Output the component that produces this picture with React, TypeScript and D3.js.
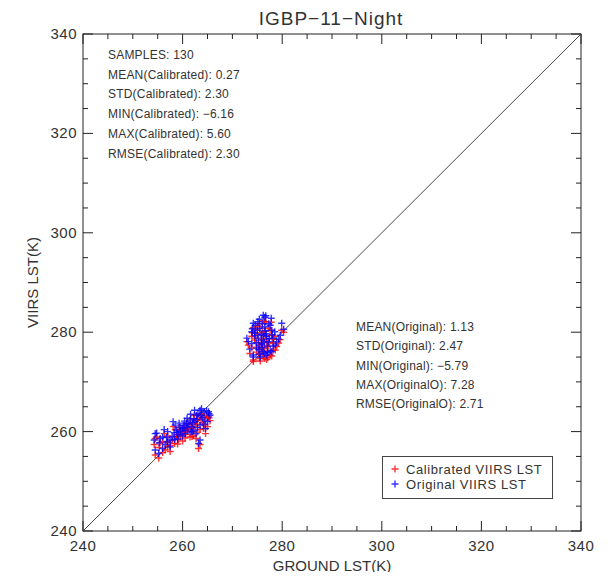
import React, { useRef, useEffect } from 'react';
import * as d3 from 'd3';

// ground LST, calibrated VIIRS LST, original VIIRS LST (K) for each sample
const ground = [
  254.5, 254.8, 254.3, 255.5, 256.0, 256.8, 257.5, 254.5, 257.5, 258.1,
  258.5, 259.5, 260.1, 260.8, 261.5, 262.2, 262.8, 263.5, 263.8, 265.2,
  265.5, 264.5, 263.5, 262.2, 261.5, 260.5, 258.8, 263.5, 263.2, 255.2,
  256.0, 256.5, 257.0, 257.9, 258.3, 258.9, 259.2, 259.6, 259.9, 260.3,
  260.6, 261.0, 261.2, 261.8, 262.0, 262.5, 262.9, 263.1, 263.7, 264.0,
  264.3, 264.8, 265.0, 264.6, 262.7, 261.9, 260.0, 259.0, 258.4, 257.0,
  256.3, 255.3, 260.9, 261.6, 262.4, 259.3, 260.4, 263.0, 264.2, 265.3,
  276.2, 276.7, 274.2, 279.9, 273.9, 274.5, 275.5, 276.5, 277.6, 277.9,
  276.2, 276.9, 278.2, 278.9, 278.6, 275.5, 274.9, 276.2, 276.9, 274.2,
  277.9, 277.2, 275.9, 275.2, 273.2, 272.9, 279.6, 274.2, 275.5, 276.5,
  277.6, 278.2, 273.9, 275.9, 274.5, 276.0, 276.5, 280.3, 275.0, 275.8,
  276.4, 277.0, 277.4, 278.0, 274.8, 275.3, 276.6, 277.3, 275.1, 274.0,
  278.5, 277.8, 276.0, 275.6, 277.1, 273.5, 274.6, 279.3, 276.8, 275.4,
];

const calibrated = [
  258.6, 258.9, 257.4, 257.8, 258.0, 257.9, 257.2, 255.3, 256.0, 261.0,
  260.4, 260.0, 260.5, 260.7, 261.4, 261.7, 262.2, 263.4, 263.6, 263.0,
  262.2, 261.4, 260.4, 259.3, 258.9, 258.7, 259.4, 257.4, 256.6, 254.7,
  255.8, 256.3, 257.0, 258.2, 258.9, 259.0, 258.4, 259.2, 259.6, 259.9,
  259.4, 260.0, 260.6, 260.1, 260.8, 261.0, 261.5, 262.6, 262.4, 261.8,
  262.9, 263.3, 261.0, 259.6, 258.6, 259.0, 258.1, 257.5, 257.6, 259.1,
  259.6, 256.8, 261.8, 262.6, 263.3, 260.8, 261.2, 259.9, 260.6, 262.8,
  282.3, 282.1, 280.9, 280.4, 279.2, 278.8, 279.9, 280.2, 280.4, 279.4,
  278.5, 278.0, 277.8, 277.1, 276.4, 276.5, 276.0, 275.2, 274.5, 274.4,
  275.2, 277.2, 277.5, 277.8, 277.4, 278.1, 278.5, 274.1, 274.7, 274.7,
  275.4, 276.4, 276.8, 276.8, 278.4, 280.8, 282.1, 280.0, 279.5, 278.6,
  277.0, 276.2, 277.9, 278.6, 277.0, 275.6, 279.3, 280.8, 281.2, 279.9,
  279.2, 282.0, 276.0, 274.2, 274.9, 275.7, 280.5, 277.8, 278.7, 281.7,
];

const original = [
  259.6, 259.7, 258.3, 258.6, 258.9, 258.8, 258.3, 256.3, 256.9, 262.0,
  261.3, 260.9, 261.3, 261.6, 262.3, 262.6, 263.3, 264.3, 264.6, 264.0,
  263.3, 262.3, 261.3, 260.3, 259.9, 259.6, 260.3, 258.3, 257.6, 255.6,
  256.6, 257.4, 257.9, 259.0, 259.8, 259.8, 259.4, 260.1, 260.6, 260.7,
  260.3, 260.9, 261.5, 261.0, 261.8, 262.0, 262.4, 263.6, 263.2, 262.8,
  263.9, 264.2, 262.0, 260.6, 259.6, 260.0, 259.1, 258.5, 258.4, 260.0,
  260.4, 257.7, 262.7, 263.5, 264.3, 261.7, 262.1, 260.8, 261.5, 263.6,
  283.4, 283.3, 281.8, 281.8, 280.1, 279.8, 280.8, 281.1, 281.4, 280.4,
  279.4, 279.1, 278.8, 278.1, 277.4, 277.4, 276.8, 276.1, 275.4, 275.4,
  276.1, 278.1, 278.4, 278.8, 278.1, 278.8, 279.4, 275.0, 275.6, 275.7,
  276.3, 277.2, 277.7, 277.7, 279.3, 281.7, 283.0, 280.6, 280.4, 279.6,
  278.0, 277.2, 278.7, 279.5, 277.9, 276.5, 280.3, 281.7, 282.1, 280.7,
  280.1, 282.8, 276.9, 275.0, 275.9, 276.6, 281.4, 278.6, 279.7, 282.6,
];

const statsCalibrated = [
  'SAMPLES: 130',
  'MEAN(Calibrated): 0.27',
  'STD(Calibrated): 2.30',
  'MIN(Calibrated): \u22126.16',
  'MAX(Calibrated): 5.60',
  'RMSE(Calibrated): 2.30',
];

const statsOriginal = [
  'MEAN(Original): 1.13',
  'STD(Original): 2.47',
  'MIN(Original): \u22125.79',
  'MAX(OriginalO): 7.28',
  'RMSE(OriginalO): 2.71',
];

const legendItems = [
  { label: 'Calibrated VIIRS LST', color: '#ff0000' },
  { label: 'Original VIIRS LST', color: '#0000ff' },
];

const majorTicks = [240, 260, 280, 300, 320, 340];

const ScatterChart = () => {
  const chartRef = useRef<HTMLDivElement>(null);

  useEffect(() => {
    d3.select(chartRef.current).selectAll('*').remove();
    const width = 611;
    const height = 580;
    const margin = { top: 34, right: 30, bottom: 49, left: 83 };
    const font = '"Liberation Sans", Arial, sans-serif';
    const ink = '#333';

    const svg = d3.select(chartRef.current)
      .append('svg')
      .attr('width', width)
      .attr('height', height)
      .style('display', 'block')
      .style('font-family', font);

    svg.append('rect').attr('width', width).attr('height', height).attr('fill', '#fff');

    const x = d3.scaleLinear()
      .domain([240, 340])
      .range([margin.left, width - margin.right]);
    const y = d3.scaleLinear()
      .domain([240, 340])
      .range([height - margin.bottom, margin.top]);

    const minorTicks = d3.range(240, 341, 5).filter(v => v % 20 !== 0);

    // frame
    svg.append('rect')
      .attr('x', x(240))
      .attr('y', y(340))
      .attr('width', x(340) - x(240))
      .attr('height', y(240) - y(340))
      .attr('fill', 'none')
      .attr('stroke', '#222')
      .attr('stroke-width', 1);

    // inward ticks on all four sides
    const ticks = svg.append('g').attr('stroke', '#222').attr('stroke-width', 1);
    const tickData = [
      ...majorTicks.map(v => ({ v, len: 10 })),
      ...minorTicks.map(v => ({ v, len: 5 })),
    ];
    tickData.forEach(({ v, len }) => {
      ticks.append('line').attr('x1', x(v)).attr('x2', x(v)).attr('y1', y(240)).attr('y2', y(240) - len);
      ticks.append('line').attr('x1', x(v)).attr('x2', x(v)).attr('y1', y(340)).attr('y2', y(340) + len);
      ticks.append('line').attr('y1', y(v)).attr('y2', y(v)).attr('x1', x(240)).attr('x2', x(240) + len);
      ticks.append('line').attr('y1', y(v)).attr('y2', y(v)).attr('x1', x(340)).attr('x2', x(340) - len);
    });

    svg.append('g')
      .selectAll('text')
      .data(majorTicks)
      .join('text')
      .attr('x', d => x(d))
      .attr('y', y(240) + 20)
      .attr('text-anchor', 'middle')
      .attr('font-size', 15)
      .attr('letter-spacing', 0.5)
      .attr('fill', ink)
      .text(d => d);

    svg.append('g')
      .selectAll('text')
      .data(majorTicks)
      .join('text')
      .attr('x', x(240) - 6)
      .attr('y', d => y(d) + 5)
      .attr('text-anchor', 'end')
      .attr('font-size', 15)
      .attr('letter-spacing', 0.5)
      .attr('fill', ink)
      .text(d => d);

    // 1:1 line
    svg.append('line')
      .attr('x1', x(240)).attr('y1', y(240))
      .attr('x2', x(340)).attr('y2', y(340))
      .attr('stroke', '#333')
      .attr('stroke-width', 0.9);

    const cross = (g, cx: number, cy: number, color: string) => {
      const r = 3.5;
      g.append('path')
        .attr('d', `M${cx - r},${cy}H${cx + r}M${cx},${cy - r}V${cy + r}`)
        .attr('stroke', color)
        .attr('stroke-width', 1.4)
        .attr('opacity', 0.8);
    };

    const pts = svg.append('g').attr('fill', 'none');
    ground.forEach((g, i) => cross(pts, x(g), y(calibrated[i]), '#ff0000'));
    ground.forEach((g, i) => cross(pts, x(g), y(original[i]), '#0000ff'));

    // title & axis labels
    svg.append('text')
      .attr('x', 331)
      .attr('y', 25)
      .attr('text-anchor', 'middle')
      .attr('font-size', 19)
      .attr('letter-spacing', 1)
      .attr('fill', ink)
      .text('IGBP\u221211\u2212Night');

    svg.append('text')
      .attr('x', x(290))
      .attr('y', 571)
      .attr('text-anchor', 'middle')
      .attr('font-size', 15)
      .attr('fill', ink)
      .text('GROUND LST(K)');

    svg.append('text')
      .attr('transform', `translate(38,${y(290)}) rotate(-90)`)
      .attr('text-anchor', 'middle')
      .attr('font-size', 15)
      .attr('fill', ink)
      .text('VIIRS LST(K)');

    // statistics
    svg.append('g')
      .selectAll('text')
      .data(statsCalibrated)
      .join('text')
      .attr('x', 108)
      .attr('y', (d, i) => 59 + i * 19.7)
      .attr('font-size', 12)
      .attr('letter-spacing', 0.2)
      .attr('fill', ink)
      .text(d => d);

    svg.append('g')
      .selectAll('text')
      .data(statsOriginal)
      .join('text')
      .attr('x', 356)
      .attr('y', (d, i) => 331 + i * 19.3)
      .attr('font-size', 12)
      .attr('letter-spacing', 0.2)
      .attr('fill', ink)
      .text(d => d);

    // legend
    const legend = svg.append('g');
    legend.append('rect')
      .attr('x', 382.5)
      .attr('y', 456.5)
      .attr('width', 170)
      .attr('height', 42)
      .attr('fill', '#fff')
      .attr('stroke', '#444')
      .attr('stroke-width', 1);
    legendItems.forEach((item, i) => {
      const cy = 469 + i * 15;
      cross(legend, 395, cy, item.color);
      legend.append('text')
        .attr('x', 406)
        .attr('y', cy + 4.5)
        .attr('font-size', 13)
        .attr('letter-spacing', 0.6)
        .attr('fill', ink)
        .text(item.label);
    });
  }, []);

  return <div ref={chartRef} />;
};

export default function App() {
  return (
    <div style={{ margin: -8 }}>
      <ScatterChart />
    </div>
  );
}
